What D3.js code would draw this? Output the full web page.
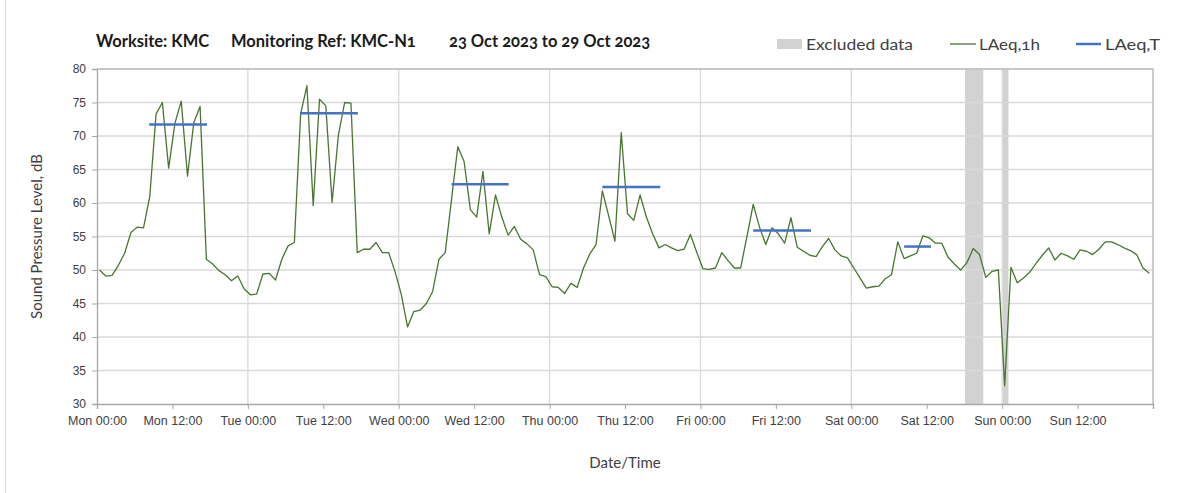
<!DOCTYPE html>
<html>
<head>
<meta charset="utf-8">
<script src="https://cdn.jsdelivr.net/npm/d3@7"></script>
<style>
  body { margin: 0; background: #fff; }
  svg { display: block; font-family: Lato, "Open Sans", sans-serif; }
</style>
</head>
<body>
<svg id="chart"></svg>
<script>
// hourly LAeq,1h, Mon 00:00 .. Sun 23:00
const laeq1h = [
  50.0, 49.1, 49.2, 50.7, 52.5, 55.6, 56.4, 56.3, 61.0, 73.3, 75.0, 65.2, 71.9, 75.2, 64.0, 72.0, 74.4, 51.6, 50.9, 49.9, 49.3, 48.4, 49.1, 47.2,
  46.3, 46.4, 49.4, 49.5, 48.5, 51.6, 53.6, 54.1, 73.3, 77.5, 59.6, 75.5, 74.5, 60.1, 70.1, 75.0, 74.9, 52.6, 53.1, 53.1, 54.1, 52.6, 52.6, 49.8,
  46.4, 41.5, 43.8, 44.0, 45.0, 46.8, 51.6, 52.6, 60.5, 68.4, 66.2, 59.0, 57.9, 64.7, 55.4, 61.2, 57.9, 55.2, 56.5, 54.6, 53.9, 53.0, 49.3, 49.0,
  47.5, 47.4, 46.5, 48.0, 47.4, 50.3, 52.4, 53.8, 61.8, 58.1, 54.3, 70.5, 58.4, 57.4, 61.2, 57.9, 55.4, 53.3, 53.8, 53.3, 52.9, 53.1, 55.3, 52.7,
  50.2, 50.1, 50.3, 52.6, 51.4, 50.3, 50.3, 55.0, 59.8, 56.4, 53.8, 56.3, 55.4, 54.0, 57.8, 53.4, 52.8, 52.2, 52.0, 53.5, 54.7, 53.0, 52.1, 51.8,
  50.3, 48.8, 47.3, 47.5, 47.6, 48.7, 49.3, 54.2, 51.7, 52.1, 52.5, 55.1, 54.8, 54.0, 54.0, 51.9, 50.9, 50.0, 51.1, 53.2, 52.3, 48.9, 49.8, 50.0,
  32.7, 50.4, 48.1, 48.8, 49.7, 51.0, 52.2, 53.3, 51.5, 52.5, 52.1, 51.6, 53.0, 52.8, 52.3, 53.1, 54.2, 54.2, 53.8, 53.3, 52.9, 52.3, 50.3, 49.5
];
const hourOffset = 0.4;

// LAeq,T periods (hours from Mon 00:00)
const periodStart = [8.3, 32.3, 56.4, 80.4, 104.4, 128.4];
const periodEnd   = [17.5, 41.5, 65.5, 89.6, 113.6, 132.7];
const periodLevel = [71.7, 73.4, 62.8, 62.4, 55.9, 53.5];

// excluded data (hours from Mon 00:00)
const excludedStart = [138.1, 144.1];
const excludedEnd   = [141.0, 145.0];

const tickLabels = ["Mon 00:00", "Mon 12:00", "Tue 00:00", "Tue 12:00", "Wed 00:00", "Wed 12:00",
  "Thu 00:00", "Thu 12:00", "Fri 00:00", "Fri 12:00", "Sat 00:00", "Sat 12:00", "Sun 00:00", "Sun 12:00"];
const yTicks = [30, 35, 40, 45, 50, 55, 60, 65, 70, 75, 80];
const titleParts = ["Worksite: KMC", "Monitoring Ref: KMC-N1", "23 Oct 2023 to 29 Oct 2023"];

const width = 1203, height = 493;
const margin = {top: 69, right: 50, bottom: 89, left: 97};
const lineColor = "#4a7530";
const blue = "#4472c4";

const svg = d3.select("#chart").attr("width", width).attr("height", height);

// outer chart border (left edge only visible)
svg.append("line")
  .attr("x1", 5.5).attr("x2", 5.5).attr("y1", 0).attr("y2", height)
  .style("stroke", "#d9d9d9");

const x = d3.scaleLinear().domain([0, 168]).range([margin.left, width - margin.right]);
const y = d3.scaleLinear().domain([30, 80]).range([height - margin.bottom, margin.top]);

// excluded bands
svg.selectAll(".excluded")
  .data(excludedStart)
  .enter()
  .append("rect")
    .classed("excluded", true)
    .attr("x", (d, i) => x(d))
    .attr("width", (d, i) => x(excludedEnd[i]) - x(d))
    .attr("y", y(80))
    .attr("height", y(30) - y(80))
    .style("fill", "#d2d2d2");

// horizontal grid
svg.append("g")
  .selectAll("line")
  .data(yTicks.slice(1))
  .enter()
  .append("line")
    .attr("x1", x(0)).attr("x2", x(168))
    .attr("y1", d => y(d)).attr("y2", d => y(d))
    .style("stroke", "#d9d9d9")
    .style("stroke-width", 1.3);

// vertical grid at midnight
svg.append("g")
  .selectAll("line")
  .data(d3.range(24, 169, 24))
  .enter()
  .append("line")
    .attr("x1", d => x(d)).attr("x2", d => x(d))
    .attr("y1", y(80)).attr("y2", y(30))
    .style("stroke", "#d9d9d9")
    .style("stroke-width", 1.3);

// y axis
const yAxis = svg.append("g")
  .attr("transform", `translate(${x(0)},0)`)
  .call(d3.axisLeft(y).tickValues(yTicks).tickSize(5).tickPadding(6));
yAxis.select(".domain").style("stroke", "#a6a6a6").style("stroke-width", 1.3);
yAxis.selectAll(".tick line").style("stroke", "#a6a6a6");
yAxis.selectAll("text")
  .style("font-size", "12px")
  .style("fill", "#404040")
  .style("font-variant-numeric", "oldstyle-nums");

// x axis
const xAxis = svg.append("g")
  .attr("transform", `translate(0,${y(30)})`)
  .call(d3.axisBottom(x).tickValues(d3.range(0, 169, 12)).tickSize(5).tickPadding(7)
    .tickFormat((d, i) => tickLabels[i] || ""));
xAxis.select(".domain").style("stroke", "#a6a6a6").style("stroke-width", 1.3);
xAxis.selectAll(".tick line").style("stroke", "#a6a6a6");
xAxis.selectAll("text")
  .style("font-size", "12.5px")
  .style("fill", "#404040")
  .style("font-variant-numeric", "oldstyle-nums");

// plot border top/right
svg.append("path")
  .attr("d", `M${x(0)},${y(80)}H${x(168)}V${y(30)}`)
  .style("fill", "none")
  .style("stroke", "#bfbfbf")
  .style("stroke-width", 1.3);

// LAeq,1h line
const line = d3.line()
  .x((d, i) => x(i + hourOffset))
  .y(d => y(d));

svg.append("path")
  .datum(laeq1h)
  .attr("d", line)
  .style("fill", "none")
  .style("stroke", lineColor)
  .style("stroke-width", 1.3)
  .style("stroke-linejoin", "round");

// LAeq,T segments
svg.selectAll(".laeqT")
  .data(periodLevel)
  .enter()
  .append("line")
    .classed("laeqT", true)
    .attr("x1", (d, i) => x(periodStart[i]))
    .attr("x2", (d, i) => x(periodEnd[i]))
    .attr("y1", d => y(d))
    .attr("y2", d => y(d))
    .style("stroke", blue)
    .style("stroke-width", 2.5);

// title
const titleX = [96, 231, 449];
svg.append("g")
  .selectAll("text")
  .data(titleParts)
  .enter()
  .append("text")
    .attr("x", (d, i) => titleX[i])
    .attr("y", 47)
    .style("font-size", "16.5px")
    .style("font-weight", "bold")
    .style("fill", "#1a1a1a")
    .style("font-variant-numeric", "oldstyle-nums")
    .text(d => d);

// legend
const legend = svg.append("g").style("font-size", "15.5px").style("fill", "#404040");
legend.append("rect")
  .attr("x", 777).attr("y", 39).attr("width", 25).attr("height", 10)
  .style("fill", "#d2d2d2");
legend.append("text").attr("x", 806).attr("y", 50)
  .attr("textLength", 107).attr("lengthAdjust", "spacingAndGlyphs")
  .text("Excluded data");
legend.append("line")
  .attr("x1", 950).attr("x2", 976).attr("y1", 44).attr("y2", 44)
  .style("stroke", lineColor).style("stroke-width", 1.3);
legend.append("text").attr("x", 979).attr("y", 50)
  .attr("textLength", 61).attr("lengthAdjust", "spacingAndGlyphs")
  .style("font-variant-numeric", "oldstyle-nums")
  .text("LAeq,1h");
legend.append("line")
  .attr("x1", 1076).attr("x2", 1101).attr("y1", 44).attr("y2", 44)
  .style("stroke", blue).style("stroke-width", 2.5);
legend.append("text").attr("x", 1105).attr("y", 50)
  .attr("textLength", 55).attr("lengthAdjust", "spacingAndGlyphs")
  .text("LAeq,T");

// axis titles
svg.append("text")
  .attr("transform", `translate(42,${(y(80) + y(30)) / 2}) rotate(-90)`)
  .attr("text-anchor", "middle")
  .style("font-size", "15px")
  .style("fill", "#404040")
  .text("Sound Pressure Level, dB");

svg.append("text")
  .attr("x", (x(0) + x(168)) / 2)
  .attr("y", 468)
  .attr("text-anchor", "middle")
  .style("font-size", "15px")
  .style("fill", "#404040")
  .text("Date/Time");
</script>
</body>
</html>
